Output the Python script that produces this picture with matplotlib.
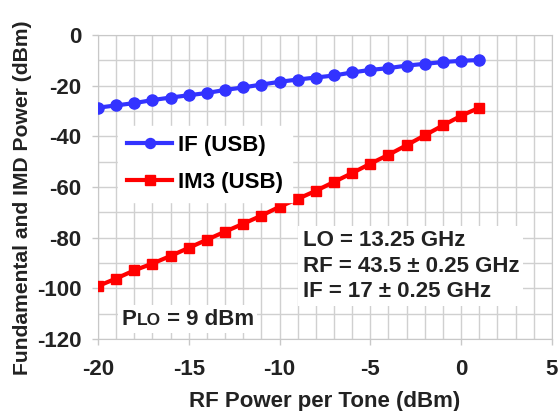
import matplotlib.pyplot as plt
import numpy as np
from matplotlib.offsetbox import TextArea, HPacker, AnchoredOffsetbox

plt.rcParams['font.family'] = ['Liberation Sans', 'DejaVu Sans']
plt.rcParams['font.weight'] = 'bold'
plt.rcParams['axes.unicode_minus'] = False

# data
rf_power = list(range(-20, 2))
if_usb = [-28.7, -27.8, -26.9, -25.7, -24.7, -23.8, -22.9, -21.7, -20.7, -19.6,
          -18.5, -17.6, -16.8, -16.0, -14.8, -13.8, -13.1, -12.1, -11.4, -10.7,
          -10.2, -9.9]
im3_usb = [-99.1, -96.1, -92.9, -90.2, -87.2, -84.0, -80.8, -77.6, -74.5, -71.3,
           -67.8, -64.7, -61.5, -58.0, -54.5, -50.8, -47.3, -43.5, -39.6, -35.7,
           -31.9, -28.7]

fig = plt.figure(figsize=(5.58, 4.11), dpi=100)
ax = fig.add_axes([0.1756, 0.175, 0.8134, 0.740])

ax.plot(rf_power, if_usb, color='#3333ff', lw=3, marker='o', ms=8,
        label='IF (USB)', zorder=3)
ax.plot(rf_power, im3_usb, color='#ff0000', lw=3, marker='s', ms=7.5,
        label='IM3 (USB)', zorder=3)

ax.set_xlim(-20, 5)
ax.set_ylim(-120, 0)
ax.set_xticks(range(-20, 6, 5))
ax.set_yticks(range(-120, 1, 20))
ax.set_xticks(range(-20, 6), minor=True)
ax.set_yticks(range(-120, 1, 10), minor=True)
ax.grid(which='both', color='#d0d0d0', lw=1, zorder=0)
ax.set_axisbelow(True)
for s in ax.spines.values():
    s.set_color('#c8c8c8')
ax.tick_params(which='major', length=4, width=1, color='#c8c8c8', direction='out',
               labelsize=16, labelcolor='#222222')
ax.tick_params(which='minor', length=0)
ax.tick_params(axis='x', pad=10)
ax.tick_params(axis='y', pad=8)

ax.set_xlabel('RF Power per Tone (dBm)', fontsize=16, fontweight='bold',
              labelpad=8, color='#222222')
ax.set_ylabel('Fundamental and IMD Power (dBm)', fontsize=15.2, fontweight='bold',
              color='#222222')
ax.yaxis.set_label_coords(-0.145, 0.465)

leg = ax.legend(loc='upper left', bbox_to_anchor=(0.045, 0.70), fontsize=16,
                handlelength=2.0, handletextpad=0.3, frameon=True, fancybox=False,
                framealpha=1, edgecolor='white', borderaxespad=0, labelspacing=0.7,
                markerscale=0.9)
leg.set_zorder(4)

ax.text(0.451, 0.358, 'LO = 13.25 GHz\nRF = 43.5 ± 0.25 GHz\nIF = 17 ± 0.25 GHz',
        transform=ax.transAxes, fontsize=16, fontweight='bold', va='top',
        linespacing=1.27, color='#222222', zorder=4,
        bbox=dict(facecolor='white', edgecolor='none', pad=3))

big = dict(fontsize=16, fontweight='bold', color='#222222')
small = dict(fontsize=12.5, fontweight='bold', color='#222222')
plo = HPacker(children=[TextArea('P', textprops=big), TextArea('LO', textprops=small),
                        TextArea(' = 9 dBm', textprops=big)],
              align='baseline', pad=0, sep=0)
box = AnchoredOffsetbox(loc='lower left', child=plo, pad=0.25, borderpad=0,
                        bbox_to_anchor=(0.045, 0.02), bbox_transform=ax.transAxes,
                        frameon=True)
box.patch.set_facecolor('white')
box.patch.set_edgecolor('none')
box.set_zorder(4)
ax.add_artist(box)

fig.savefig('out.png', dpi=100)
